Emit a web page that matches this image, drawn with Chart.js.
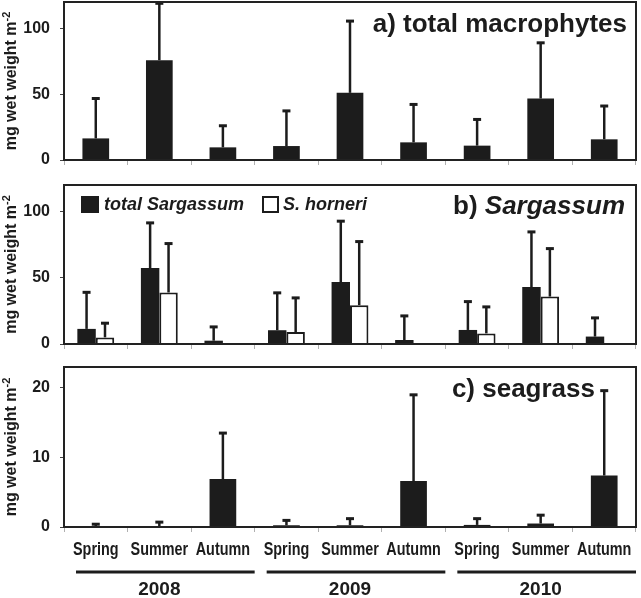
<!DOCTYPE html>
<html><head><meta charset="utf-8">
<script src="https://cdn.jsdelivr.net/npm/chart.js@4.4.1/dist/chart.umd.min.js"></script>
<style>
html,body{margin:0;padding:0;background:#fff;width:641px;height:598px;overflow:hidden;position:relative}
canvas{position:absolute;left:0}
</style></head><body>
<canvas id="ca" width="641" height="198" style="top:-18px"></canvas>
<canvas id="cb" width="641" height="199" style="top:165px"></canvas>
<canvas id="cc" width="641" height="251" style="top:347px"></canvas>
<script>
// ---- data ----
const seasons = ['Spring','Summer','Autumn','Spring','Summer','Autumn','Spring','Summer','Autumn'];
const years = ['2008','2009','2010'];
const macroMean = [16.4, 75.8, 9.6, 10.6, 51.0, 13.4, 10.9, 46.7, 15.7];
const macroSD   = [30.3, 43.2, 16.4, 26.7, 54.5, 28.8, 19.9, 42.3, 25.3];
const sargMean  = [11.4, 57.3, 2.5, 10.4, 46.7, 3.0, 10.6, 43.0, 5.6];
const sargSD    = [27.6, 34.1, 10.4, 28.2, 46.0, 18.2, 21.4, 41.6, 14.1];
const hornMean  = [5.0, 38.9, 0.3, 9.0, 29.3, 0.4, 8.0, 35.8, 0.4];
const hornSD    = [10.7, 36.9, 0, 25.8, 48.0, 0, 20.0, 36.2, 0];
const seaMean   = [0.05, 0.03, 6.9, 0.25, 0.25, 6.6, 0.3, 0.5, 7.4];
const seaSD     = [0.35, 0.67, 6.6, 0.7, 0.95, 12.4, 0.9, 1.2, 12.2];
const yTicksAB = [0, 50, 100];
const yTicksC  = [0, 10, 20];

const FONT = '"Liberation Sans", Arial, Helvetica, sans-serif';
const INK = '#1c1c1c';

const errorBars = {
  id: 'errorBars',
  afterDatasetsDraw(chart) {
    const ctx = chart.ctx, y = chart.scales.y;
    chart.data.datasets.forEach((ds, i) => {
      if (!ds.err) return;
      const meta = chart.getDatasetMeta(i);
      meta.data.forEach((bar, j) => {
        const sd = ds.err[j];
        if (!sd) return;
        const top = y.getPixelForValue(ds.data[j] + sd);
        const base = y.getPixelForValue(ds.data[j]);
        ctx.save();
        ctx.strokeStyle = INK;
        ctx.lineWidth = 2.5;
        ctx.beginPath(); ctx.moveTo(bar.x, base); ctx.lineTo(bar.x, top); ctx.stroke();
        ctx.lineWidth = 3;
        ctx.beginPath(); ctx.moveTo(bar.x - 4, top); ctx.lineTo(bar.x + 4, top); ctx.stroke();
        ctx.restore();
      });
    });
  }
};

const frame = {
  id: 'frame',
  afterDraw(chart, args, opts) {
    const ctx = chart.ctx, a = chart.chartArea;
    ctx.save();
    ctx.strokeStyle = '#222';
    ctx.lineWidth = 2;
    ctx.strokeRect(a.left, a.top, a.right - a.left, a.bottom - a.top);
    // y title
    const cy = (a.top + a.bottom) / 2;
    ctx.translate(12, cy);
    ctx.rotate(-Math.PI / 2);
    const main = 'mg wet weight m', sup = '-2';
    ctx.font = 'bold 16px ' + FONT;
    const w1 = ctx.measureText(main).width;
    ctx.font = 'bold 11px ' + FONT;
    const w2 = ctx.measureText(sup).width;
    const x0 = -(w1 + w2) / 2;
    ctx.fillStyle = INK;
    ctx.textBaseline = 'middle';
    ctx.textAlign = 'left';
    ctx.font = 'bold 16px ' + FONT;
    ctx.fillText(main, x0, 0);
    ctx.font = 'bold 11px ' + FONT;
    ctx.fillText(sup, x0 + w1, -5);
    ctx.restore();
    if (opts.extra) opts.extra(chart, ctx);
  }
};

function makeOptions(ymax, ticksArr, xHeight, catPct, barPct, extra) {
  return {
    responsive: false, animation: false, devicePixelRatio: 1,
    layout: { padding: { top: 20, right: 5, left: 0, bottom: 0 } },
    plugins: { legend: { display: false }, tooltip: { enabled: false }, frame: { extra } },
    datasets: { bar: { categoryPercentage: catPct, barPercentage: barPct } },
    scales: {
      x: {
        grid: { offset: true, drawOnChartArea: false, tickLength: 5, color: '#b0b0b0' },
        border: { display: false },
        ticks: { display: false },
        afterFit(s) { s.height = xHeight; }
      },
      y: {
        min: 0, max: ymax,
        ticks: { stepSize: ticksArr[1], font: { family: FONT, size: 16, weight: 'bold' }, color: INK, padding: 10 },
        afterBuildTicks(s) { s.ticks = ticksArr.map(v => ({ value: v })); },
        grid: { drawOnChartArea: false, tickLength: 4, color: '#444' },
        border: { display: false },
        afterFit(s) { s.width = 64; }
      }
    }
  };
}

function pageY(chart, y) { return y - parseFloat(chart.canvas.style.top); }

// Panel a
new Chart(document.getElementById('ca'), {
  type: 'bar',
  data: { labels: seasons, datasets: [{ data: macroMean, err: macroSD, backgroundColor: INK, borderColor: INK, borderWidth: 0 }] },
  options: makeOptions(120, yTicksAB, 20, 1.0, 0.42, (chart, ctx) => {
    ctx.save();
    ctx.fillStyle = INK;
    ctx.font = 'bold 26px ' + FONT;
    ctx.textAlign = 'right'; ctx.textBaseline = 'middle';
    ctx.fillText('a) total macrophytes', 627, pageY(chart, 25));
    ctx.restore();
  }),
  plugins: [errorBars, frame]
});

// Panel b
new Chart(document.getElementById('cb'), {
  type: 'bar',
  data: { labels: seasons, datasets: [
    { label: 'total Sargassum', data: sargMean, err: sargSD, backgroundColor: INK, borderColor: INK, borderWidth: 0 },
    { label: 'S. horneri', data: hornMean, err: hornSD, backgroundColor: '#fff', borderColor: INK, borderWidth: 2 }
  ] },
  options: makeOptions(120, yTicksAB, 20, 0.58, 1.0, (chart, ctx) => {
    ctx.save();
    ctx.fillStyle = INK;
    ctx.textBaseline = 'middle';
    // title
    const t1 = 'b) ', t2 = 'Sargassum';
    ctx.font = 'bold 26px ' + FONT;
    const w1 = ctx.measureText(t1).width;
    ctx.font = 'italic bold 26px ' + FONT;
    const w2 = ctx.measureText(t2).width;
    const xs = 625 - w1 - w2;
    ctx.font = 'bold 26px ' + FONT;
    ctx.textAlign = 'left';
    ctx.fillText(t1, xs, pageY(chart, 207));
    ctx.font = 'italic bold 26px ' + FONT;
    ctx.fillText(t2, xs + w1, pageY(chart, 207));
    // legend
    const ds = chart.data.datasets;
    ctx.fillRect(81, pageY(chart, 196), 18, 17);
    ctx.font = 'italic bold 18px ' + FONT;
    ctx.fillText(ds[0].label, 104, pageY(chart, 205));
    ctx.strokeStyle = INK; ctx.lineWidth = 2;
    ctx.strokeRect(263, pageY(chart, 197), 15, 15);
    ctx.fillText(ds[1].label, 283, pageY(chart, 205));
    ctx.restore();
  }),
  plugins: [errorBars, frame]
});

// Panel c
new Chart(document.getElementById('cc'), {
  type: 'bar',
  data: { labels: seasons, datasets: [{ data: seaMean, err: seaSD, backgroundColor: INK, borderColor: INK, borderWidth: 0 }] },
  options: makeOptions(23, yTicksC, 71, 1.0, 0.42, (chart, ctx) => {
    ctx.save();
    ctx.fillStyle = INK;
    ctx.font = 'bold 26px ' + FONT;
    ctx.textAlign = 'right'; ctx.textBaseline = 'middle';
    ctx.fillText('c) seagrass', 595, pageY(chart, 390));
    const xs = chart.scales.x;
    // season labels (condensed bold)
    ctx.font = 'bold 18px ' + FONT;
    ctx.textAlign = 'center';
    chart.data.labels.forEach((lab, i) => {
      ctx.save();
      ctx.translate(xs.getPixelForValue(i), pageY(chart, 550));
      ctx.scale(0.8, 1);
      ctx.fillText(lab, 0, 0);
      ctx.restore();
    });
    const cw = xs.getPixelForValue(1) - xs.getPixelForValue(0);
    ctx.strokeStyle = INK; ctx.lineWidth = 3;
    ctx.font = 'bold 19px ' + FONT;
    years.forEach((yr, g) => {
      const left = xs.getPixelForValue(g * 3) - cw / 2 + 12;
      const right = xs.getPixelForValue(g * 3 + 2) + cw / 2;
      const ly = pageY(chart, 572);
      ctx.beginPath(); ctx.moveTo(left, ly); ctx.lineTo(right, ly); ctx.stroke();
      ctx.fillText(yr, xs.getPixelForValue(g * 3 + 1), pageY(chart, 590));
    });
    ctx.restore();
  }),
  plugins: [errorBars, frame]
});
</script>
</body></html>
